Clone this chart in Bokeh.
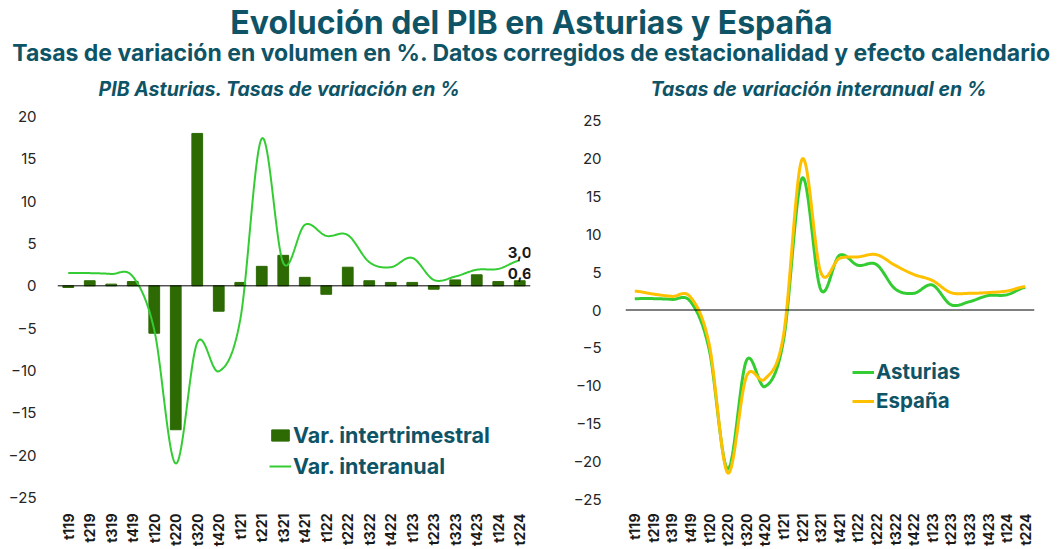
import math
from bokeh.plotting import figure
from bokeh.layouts import column, row
from bokeh.models import (Range1d, FixedTicker, Span, Label, Legend, LegendItem,
                          ColumnDataSource)
from bokeh.core.properties import value
from bokeh.embed import file_html
from bokeh.resources import INLINE

# ---------------- data ----------------
quarters = ["t119", "t219", "t319", "t419", "t120", "t220", "t320", "t420",
            "t121", "t221", "t321", "t421", "t122", "t222", "t322", "t422",
            "t123", "t223", "t323", "t423", "t124", "t224"]
var_intertrimestral = [-0.2, 0.6, 0.2, 0.5, -5.6, -17.0, 18.0, -3.0,
                       0.4, 2.3, 3.6, 1.0, -1.0, 2.2, 0.6, 0.4,
                       0.4, -0.4, 0.7, 1.3, 0.5, 0.6]
interanual_asturias = [1.5, 1.5, 1.4, 1.1, -5.2, -21.0, -6.7, -10.1,
                       -4.0, 17.4, 2.7, 7.2, 5.9, 6.0, 2.8, 2.2,
                       3.3, 0.7, 1.1, 1.9, 2.0, 3.0]
interanual_espana = [2.5, 2.1, 1.8, 1.7, -4.5, -21.5, -8.8, -9.1,
                     -3.3, 19.9, 5.0, 6.8, 7.0, 7.3, 5.9, 4.7,
                     3.9, 2.3, 2.2, 2.3, 2.5, 3.1]
left_ticks = [-25, -20, -15, -10, -5, 0, 5, 10, 15, 20]
right_ticks = [-25, -20, -15, -10, -5, 0, 5, 10, 15, 20, 25]

TEAL = "#0E5466"
BAR = "#2D6A04"
GREEN = "#33CC33"
ORANGE = "#FFC000"
FONT = "Inter"


def smooth(ys, steps=24):
    """Catmull-Rom rendering of a line through the given points (like Excel's smoothed line)."""
    n = len(ys)
    xs_out, ys_out = [], []
    for i in range(n - 1):
        p0 = ys[i - 1] if i > 0 else ys[i]
        p1, p2 = ys[i], ys[i + 1]
        p3 = ys[i + 2] if i + 2 < n else ys[i + 1]
        for s in range(steps):
            t = s / steps
            t2, t3 = t * t, t * t * t
            y = 0.5 * ((2 * p1) + (-p0 + p2) * t + (2 * p0 - 5 * p1 + 4 * p2 - p3) * t2
                       + (-p0 + 3 * p1 - 3 * p2 + p3) * t3)
            xs_out.append(i + t)
            ys_out.append(y)
    xs_out.append(n - 1)
    ys_out.append(ys[-1])
    return xs_out, ys_out


idx = list(range(len(quarters)))
overrides = {i: q for i, q in enumerate(quarters)}


def style_axes(p, yticks, ystandoff):
    p.xgrid.visible = False
    p.ygrid.visible = False
    p.outline_line_color = None
    p.background_fill_color = None
    p.border_fill_color = None
    xa = p.xaxis[0]
    xa.ticker = FixedTicker(ticks=idx)
    xa.major_label_overrides = overrides
    xa.major_label_orientation = math.pi / 2
    xa.axis_line_color = None
    xa.major_tick_line_color = None
    xa.minor_tick_line_color = None
    xa.major_label_text_font = FONT
    xa.major_label_text_font_size = "14px"
    xa.major_label_text_font_style = "bold"
    xa.major_label_text_color = "#1a1a1a"
    xa.major_label_standoff = 8
    ya = p.yaxis[0]
    ya.ticker = FixedTicker(ticks=yticks)
    ya.axis_line_color = None
    ya.major_tick_line_color = None
    ya.minor_tick_line_color = None
    ya.major_label_text_font = FONT
    ya.major_label_text_font_size = "15px"
    ya.major_label_text_color = "#262626"
    ya.major_label_standoff = ystandoff
    p.add_layout(Span(location=0, dimension="width", line_color="black", line_width=1))


# ---------------- title panel ----------------
t = figure(width=1062, height=103, x_range=Range1d(0, 1062), y_range=Range1d(103, 0),
           output_backend="svg", toolbar_location=None, min_border=0)
t.axis.visible = False
t.grid.visible = False
t.outline_line_color = None
t.text(x=[531], y=[22], text=["Evolución del PIB en Asturias y España"],
       text_font=value(FONT), text_font_size="32px", text_font_style="bold",
       text_color=TEAL, text_align="center", text_baseline="middle")
t.text(x=[531], y=[52], text=["Tasas de variación en volumen en %. Datos corregidos de estacionalidad y efecto calendario"],
       text_font=value(FONT), text_font_size="23px", text_font_style="bold",
       text_color=TEAL, text_align="center", text_baseline="middle")
t.text(x=[279], y=[88], text=["PIB Asturias. Tasas de variación en %"],
       text_font=value(FONT), text_font_size="19.5px", text_font_style="bold italic",
       text_color=TEAL, text_align="center", text_baseline="middle")
t.text(x=[818], y=[88], text=["Tasas de variación interanual en %"],
       text_font=value(FONT), text_font_size="19.5px", text_font_style="bold italic",
       text_color=TEAL, text_align="center", text_baseline="middle")

# ---------------- left chart ----------------
# both frames span rows 116..499 (row layout aligns them)
p1 = figure(width=556, height=446, x_range=Range1d(-0.5, 21.5), y_range=Range1d(-25.24, 20),
            output_backend="svg", toolbar_location=None,
            min_border_left=57, min_border_right=26, min_border_top=13, min_border_bottom=50)
style_axes(p1, left_ticks, 15)
src = ColumnDataSource(dict(x=idx, top=var_intertrimestral))
bars = p1.vbar(x="x", top="top", bottom=0, width=0.5, source=src,
               fill_color=BAR, line_color=BAR)
sx, sy = smooth(interanual_asturias)
ln1 = p1.line(sx, sy, line_color=GREEN, line_width=2)
last = len(quarters) - 1
p1.add_layout(Label(x=last, y=interanual_asturias[-1], text="3,0", text_font=FONT,
                    text_font_size="15px", text_font_style="bold", text_color="#1a1a1a",
                    text_align="center", text_baseline="bottom", y_offset=2))
p1.add_layout(Label(x=last, y=var_intertrimestral[-1], text="0,6", text_font=FONT,
                    text_font_size="15px", text_font_style="bold", text_color="#1a1a1a",
                    text_align="center", text_baseline="bottom", y_offset=2))
leg1 = Legend(items=[LegendItem(label="Var. intertrimestral", renderers=[bars]),
                     LegendItem(label="Var. interanual", renderers=[ln1])],
              location=(212, 20), orientation="vertical",
              background_fill_alpha=0, border_line_color=None,
              padding=0, margin=0, spacing=5, label_standoff=2,
              glyph_width=22, glyph_height=14, label_height=14,
              label_text_font=FONT, label_text_font_size="21.5px",
              label_text_font_style="bold", label_text_color=TEAL)
p1.add_layout(leg1)

# ---------------- right chart ----------------
p2 = figure(width=506, height=446, x_range=Range1d(-0.5, 21.5), y_range=Range1d(-25, 25.53),
            output_backend="svg", toolbar_location=None,
            min_border_left=69, min_border_right=28, min_border_top=13, min_border_bottom=50)
style_axes(p2, right_ticks, 18)
ax, ay = smooth(interanual_asturias)
ex, ey = smooth(interanual_espana)
l_ast = p2.line(ax, ay, line_color=GREEN, line_width=3)
l_esp = p2.line(ex, ey, line_color=ORANGE, line_width=3)
leg2 = Legend(items=[LegendItem(label="Asturias", renderers=[l_ast]),
                     LegendItem(label="España", renderers=[l_esp])],
              location=(227, 86), orientation="vertical",
              background_fill_alpha=0, border_line_color=None,
              padding=0, margin=0, spacing=4, label_standoff=2,
              glyph_width=22, glyph_height=16, label_height=16,
              label_text_font=FONT, label_text_font_size="20.5px",
              label_text_font_style="bold", label_text_color=TEAL)
p2.add_layout(leg2)

layout = column(t, row(p1, p2))
open("out.html", "w").write(file_html(layout, INLINE))
